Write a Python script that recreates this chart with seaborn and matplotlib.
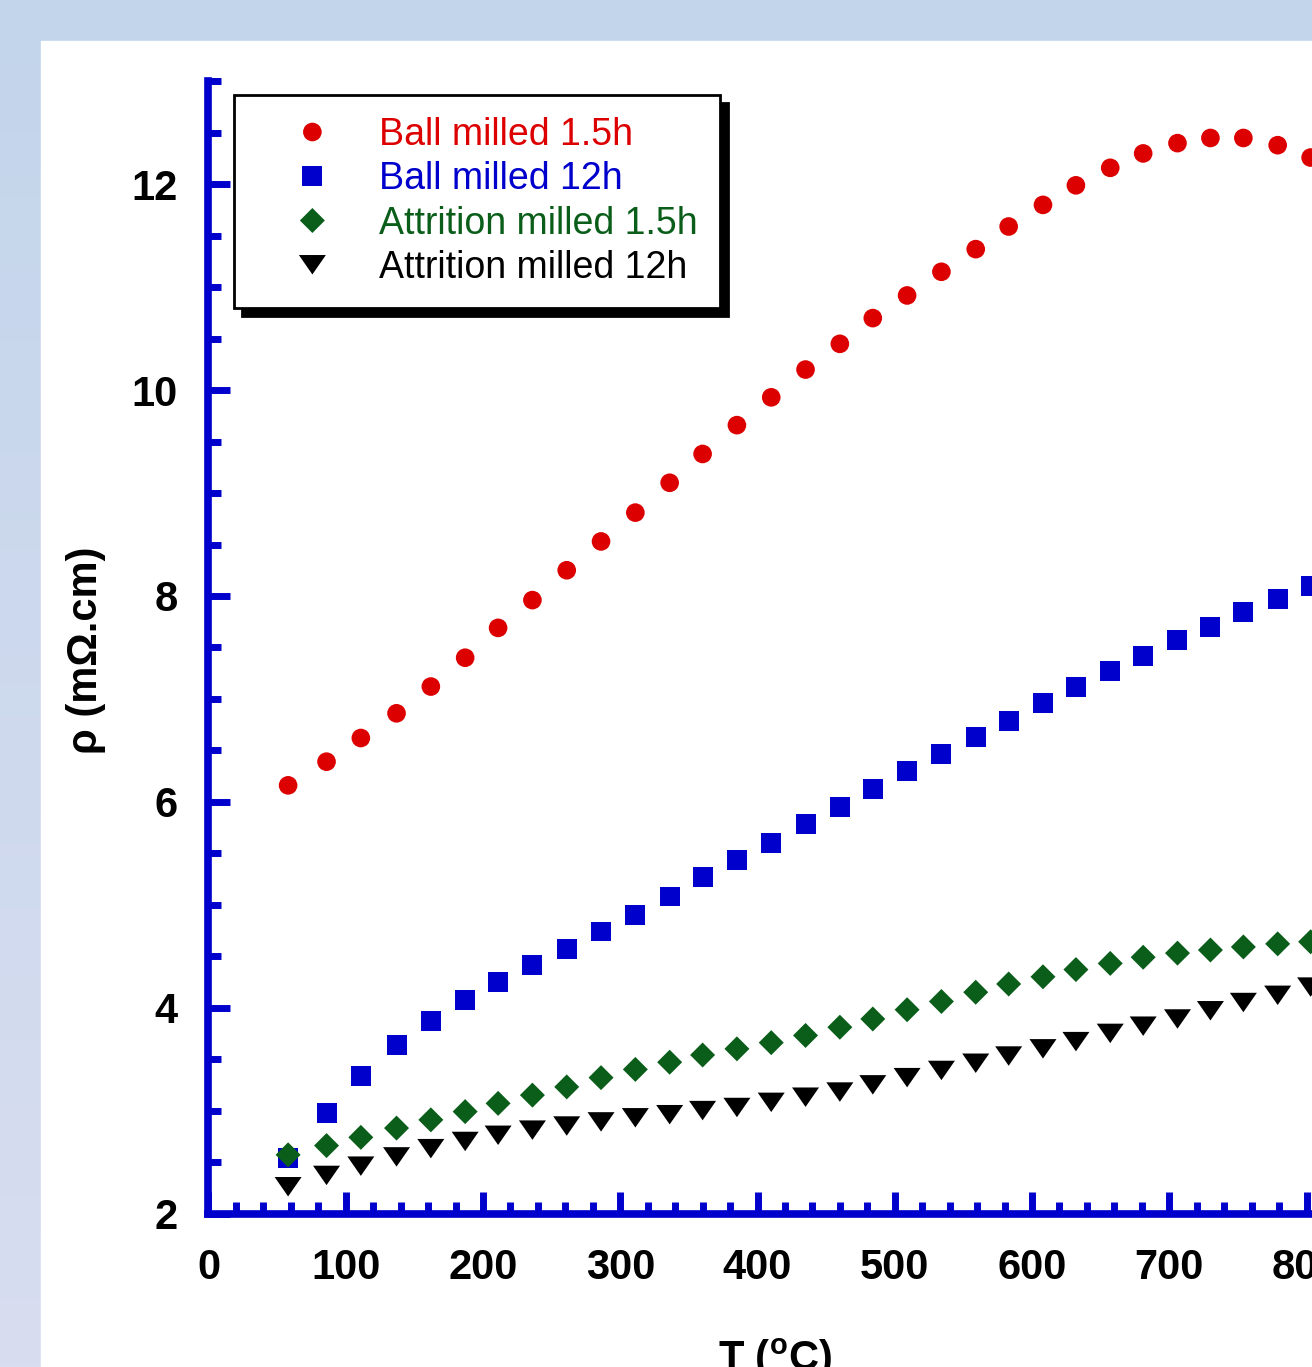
import numpy as np
import matplotlib
matplotlib.use("Agg")
import matplotlib.pyplot as plt
from matplotlib.patches import Rectangle
from matplotlib.ticker import MultipleLocator
from matplotlib.path import Path
from matplotlib.colors import LinearSegmentedColormap
import seaborn as sns

# ---------------- data ----------------
T = [58, 86, 111, 137, 162, 187, 211, 236, 261, 286, 311, 336, 360, 385, 410,
     435, 460, 484, 509, 534, 559, 583, 608, 632, 657, 681, 706, 730, 754, 779, 803]
ball_15h = [6.16, 6.39, 6.62, 6.86, 7.12, 7.40, 7.69, 7.96, 8.25, 8.53, 8.81, 9.10,
            9.38, 9.66, 9.93, 10.20, 10.45, 10.70, 10.92, 11.15, 11.37, 11.59, 11.80,
            11.99, 12.16, 12.30, 12.40, 12.45, 12.45, 12.38, 12.26]
ball_12h = [2.54, 2.98, 3.34, 3.64, 3.87, 4.07, 4.25, 4.41, 4.57, 4.74, 4.90, 5.08,
            5.27, 5.43, 5.60, 5.78, 5.95, 6.12, 6.30, 6.46, 6.63, 6.79, 6.96, 7.12,
            7.27, 7.42, 7.57, 7.70, 7.84, 7.97, 8.10]
attr_15h = [2.57, 2.66, 2.74, 2.83, 2.91, 2.99, 3.07, 3.15, 3.23, 3.32, 3.40, 3.47,
            3.54, 3.60, 3.66, 3.73, 3.81, 3.89, 3.98, 4.06, 4.15, 4.23, 4.30, 4.37,
            4.43, 4.49, 4.53, 4.56, 4.59, 4.62, 4.64]
attr_12h = [2.26, 2.37, 2.46, 2.55, 2.63, 2.70, 2.76, 2.81, 2.85, 2.89, 2.93, 2.96,
            3.00, 3.03, 3.08, 3.13, 3.18, 3.25, 3.32, 3.39, 3.46, 3.53, 3.60, 3.67,
            3.75, 3.82, 3.89, 3.97, 4.05, 4.12, 4.20]
series_labels = ["Ball milled 1.5h", "Ball milled 12h",
                 "Attrition milled 1.5h", "Attrition milled 12h"]
x_ticks = [0, 100, 200, 300, 400, 500, 600, 700, 800, 900]
x_ticklabels = ["0", "100", "200", "300", "400", "500", "600", "700", "800", "900"]
y_ticks = [2, 4, 6, 8, 10, 12]
y_ticklabels = ["2", "4", "6", "8", "10", "12"]

# ---------------- style ----------------
RED = "#DD0000"
BLUE = "#0000CC"
GREEN = "#0A5E1A"
BLACK = "#000000"
AXBLUE = "#0000CC"

plt.rcParams["font.family"] = ["Liberation Sans", "DejaVu Sans"]
plt.rcParams["mathtext.fontset"] = "custom"
plt.rcParams["mathtext.rm"] = "Liberation Sans:bold"
plt.rcParams["mathtext.bf"] = "Liberation Sans:bold"
plt.rcParams["mathtext.it"] = "Liberation Sans:bold"

W, H = 1312, 1367
fig = plt.figure(figsize=(W / 100, H / 100), dpi=100)

# background gradient + white panel
bg = fig.add_axes([0, 0, 1, 1], zorder=-10)
bg.axis("off")
cmap = LinearSegmentedColormap.from_list("bg", ["#C3D5EB", "#D8DDF0"])
bg.imshow(np.linspace(0, 1, 256).reshape(-1, 1), aspect="auto", cmap=cmap,
          extent=[0, 1, 0, 1], origin="upper")
bg.add_patch(Rectangle((41 / W, 0), 1, 1 - 41 / H, color="white", zorder=2))
bg.set_xlim(0, 1)
bg.set_ylim(0, 1)

# main axes (extends beyond the right figure edge, as in the cropped original)
x0_px, y0_px = 208.5, 1213.5
px_per_x = 1.3725
px_per_y = 102.92
xmax, ymin, ymax = 900, 2, 13
ax = fig.add_axes([x0_px / W, (H - y0_px) / H,
                   xmax * px_per_x / W, (ymax - ymin) * px_per_y / H])
ax.set_facecolor("none")

tri = Path([(-1, 0.72), (1, 0.72), (0, -0.72), (-1, 0.72)],
           [Path.MOVETO, Path.LINETO, Path.LINETO, Path.CLOSEPOLY])

sns.scatterplot(x=T, y=ball_15h, ax=ax, marker="o", s=180, color=RED,
                edgecolor="none", linewidth=0, label=series_labels[0], legend=False, zorder=3)
sns.scatterplot(x=T, y=ball_12h, ax=ax, marker="s", s=207, color=BLUE,
                edgecolor="none", linewidth=0, label=series_labels[1], legend=False, zorder=3)
sns.scatterplot(x=T, y=attr_15h, ax=ax, marker="D", s=162, color=GREEN,
                edgecolor="none", linewidth=0, label=series_labels[2], legend=False, zorder=3)
sns.scatterplot(x=T, y=attr_12h, ax=ax, marker=tri, s=378, color=BLACK,
                edgecolor="none", linewidth=0, label=series_labels[3], legend=False, zorder=3)

ax.set_xlim(0, xmax)
ax.set_ylim(ymin, ymax)
ax.set_xticks(x_ticks)
ax.set_xticklabels(x_ticklabels, fontweight="bold")
ax.set_yticks(y_ticks)
ax.set_yticklabels(y_ticklabels, fontweight="bold")
ax.xaxis.set_minor_locator(MultipleLocator(20))
ax.yaxis.set_minor_locator(MultipleLocator(0.5))

for s in ["top", "right"]:
    ax.spines[s].set_visible(False)
for s in ["left", "bottom"]:
    ax.spines[s].set_color(AXBLUE)
    ax.spines[s].set_linewidth(5.5)

ax.tick_params(which="both", direction="in", color=AXBLUE, width=5,
               labelsize=30, labelcolor="black", top=False, right=False)
ax.tick_params(which="major", length=16)
ax.tick_params(which="minor", length=9)
ax.tick_params(axis="x", which="major", pad=25)
ax.tick_params(axis="y", which="major", pad=22)

ax.set_ylabel("ρ (mΩ.cm)", fontsize=30, fontweight="bold")
ax.yaxis.label.set_va("center")
ax.yaxis.set_label_coords((86 - x0_px) / (xmax * px_per_x), 0.4978)
ax.set_xlabel(r"T ($\mathrm{^o}$C)", fontsize=30, fontweight="bold")
ax.xaxis.set_label_coords((775 - x0_px) / (xmax * px_per_x),
                          (y0_px - 1337) / ((ymax - ymin) * px_per_y))

leg = ax.legend(loc="upper left", bbox_to_anchor=(234 / W, 1 - 95 / H),
                bbox_transform=fig.transFigure, borderaxespad=0,
                frameon=True, fancybox=False, framealpha=1,
                shadow={"ox": 5.8, "oy": -5.8, "facecolor": "black",
                        "edgecolor": "black", "alpha": 1},
                prop={"size": 27, "weight": "normal"},
                handlelength=3.0, handletextpad=0.27, borderpad=0.59,
                labelspacing=0.22, scatteryoffsets=[0.5])
leg.get_frame().set_edgecolor("black")
leg.get_frame().set_linewidth(2)
for t, c in zip(leg.get_texts(), [RED, BLUE, GREEN, BLACK]):
    t.set_color(c)

fig.savefig("out.png", dpi=100)
